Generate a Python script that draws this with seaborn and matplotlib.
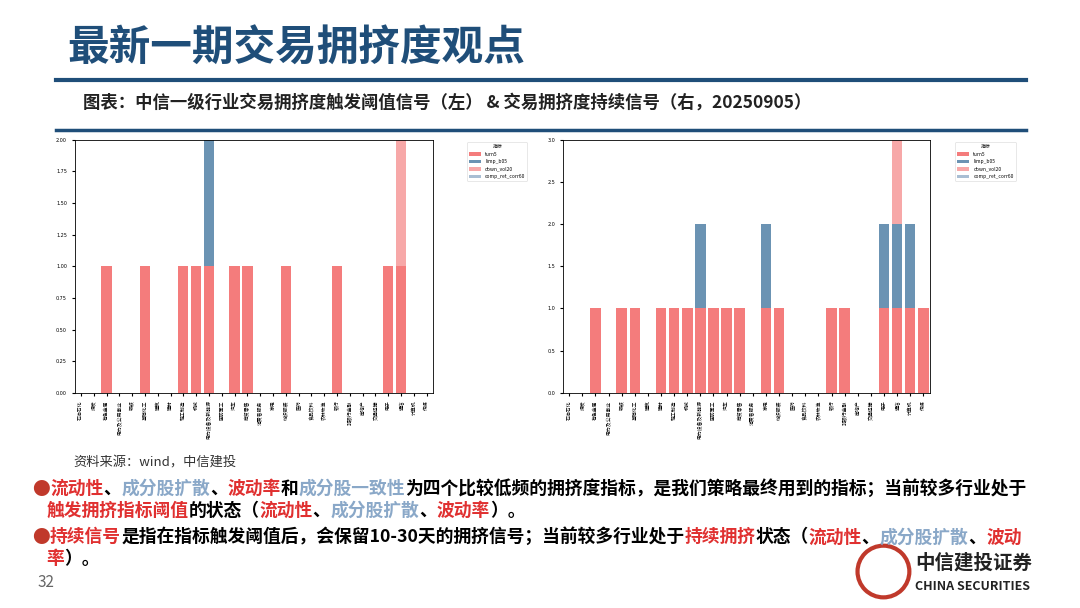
import numpy as np
import pandas as pd
import matplotlib.pyplot as plt
from matplotlib.patches import Ellipse
import seaborn as sns

industries = ['石油石化', '煤炭', '有色金属', '电力及公用事业', '钢铁', '基础化工', '建筑', '建材',
              '轻工制造', '机械', '电力设备及新能源', '国防军工', '汽车', '商贸零售', '消费者服务', '家电',
              '纺织服装', '医药', '食品饮料', '农林牧渔', '银行', '非银行金融', '房地产', '交通运输',
              '电子', '通信', '计算机', '传媒']
series = ['turn5', 'limp_b05', 'down_vol20', 'comp_ret_corr60']
colors = ['#f47c7c', '#6b93b3', '#f7a8a8', '#a9bed3']

left_turn5 = [0, 0, 1, 0, 0, 1, 0, 0, 1, 1, 1, 0, 1, 1, 0, 0, 1, 0, 0, 0, 1, 0, 0, 0, 1, 1, 0, 0]
left_limp = [0] * 10 + [1] + [0] * 17
left_down = [0] * 25 + [1, 0, 0]
left_corr = [0] * 28

right_turn5 = [0, 0, 1, 0, 1, 1, 0, 1, 1, 1, 1, 1, 1, 1, 0, 1, 1, 0, 0, 0, 1, 1, 0, 0, 1, 1, 1, 1]
right_limp = [0] * 10 + [1] + [0] * 4 + [1] + [0] * 8 + [1, 1, 1, 0]
right_down = [0] * 25 + [1, 0, 0]
right_corr = [0] * 28

plt.rcParams['font.family'] = ['Noto Sans CJK SC', 'DejaVu Sans']
fig = plt.figure(figsize=(10.8, 6.08), dpi=100)
fig.patch.set_facecolor('white')

navy = '#1f4e79'
fig.text(0.062, 0.9, '最新一期交易拥挤度观点', fontsize=30, fontweight='bold', color=navy)
fig.add_artist(plt.Line2D([0.052, 0.95], [0.868, 0.868], color=navy, lw=3))
fig.text(0.077, 0.823, '图表：中信一级行业交易拥挤度触发阈值信号（左） & 交易拥挤度持续信号（右，20250905）',
         fontsize=12.5, fontweight='bold', color='#222222')
fig.add_artist(plt.Line2D([0.052, 0.95], [0.787, 0.787], color=navy, lw=2.5))


def stacked(ax, vals, ymax, ticks, fmt):
    bottom = np.zeros(len(industries))
    for name, v, c in zip(series, vals, colors):
        df = pd.DataFrame({'ind': industries, 'v': v})
        sns.barplot(data=df, x='ind', y='v', color=c, bottom=bottom, ax=ax, width=0.8,
                    saturation=1, label=name)
        bottom = bottom + np.array(v)
    ax.set_ylim(0, ymax)
    ax.set_yticks(ticks)
    ax.set_yticklabels([fmt.format(t) for t in ticks], fontsize=3.5, family='DejaVu Sans')
    ax.tick_params(axis='x', rotation=90, labelsize=3.5, length=2)
    ax.tick_params(axis='y', length=2)
    for lab in ax.get_xticklabels():
        lab.set_verticalalignment('top')
    ax.set_xlabel('')
    ax.set_ylabel('')
    for s in ax.spines.values():
        s.set_linewidth(0.6)
    leg = ax.legend(title='指标', fontsize=3.5, title_fontsize=3.5, loc='upper right',
                    bbox_to_anchor=(1.27, 1.0), frameon=True, handlelength=2.5)
    leg.get_frame().set_linewidth(0.4)


ax1 = fig.add_axes([0.069, 0.354, 0.332, 0.416])
stacked(ax1, [left_turn5, left_limp, left_down, left_corr], 2.0,
        [0, 0.25, 0.5, 0.75, 1.0, 1.25, 1.5, 1.75, 2.0], '{:.2f}')
ax2 = fig.add_axes([0.521, 0.354, 0.340, 0.416])
stacked(ax2, [right_turn5, right_limp, right_down, right_corr], 3.0,
        [0, 0.5, 1.0, 1.5, 2.0, 2.5, 3.0], '{:.1f}')
ax2.get_legend().set_bbox_to_anchor((1.24, 1.0))

fig.text(0.068, 0.232, '资料来源：wind，中信建投', fontsize=9.5, color='#333333', style='italic')

red = '#e03030'
blue = '#8aa8c8'
fs = 12.8
lines = [
    [('●', '#c0392b'), ('流动性', red), ('、', 'k'), ('成分股扩散', blue), ('、', 'k'), ('波动率', red),
     ('和', 'k'), ('成分股一致性', blue), ('为四个比较低频的拥挤度指标，是我们策略最终用到的指标；当前较多行业处于', 'k')],
    [('触发拥挤指标阈值', red), ('的状态（', 'k'), ('流动性', red), ('、', 'k'), ('成分股扩散', blue),
     ('、', 'k'), ('波动率', red), ('）。', 'k')],
    [('●', '#c0392b'), ('持续信号', red), ('是指在指标触发阈值后，会保留10-30天的拥挤信号；当前较多行业处于', 'k'),
     ('持续拥挤', red), ('状态（', 'k'), ('流动性', red), ('、', 'k'), ('成分股扩散', blue), ('、', 'k'),
     ('波动', red)],
    [('率', red), ('）。', 'k')],
]
ys = [0.188, 0.152, 0.108, 0.072]
xs = [0.03, 0.043, 0.03, 0.043]
renderer = fig.canvas.get_renderer()
for parts, y, x0 in zip(lines, ys, xs):
    x = x0
    for txt, c in parts:
        t = fig.text(x, y, txt, fontsize=fs, color=c, fontweight='bold',
                     style='italic' if c in (red, blue) else 'normal')
        bb = t.get_window_extent(renderer)
        x += bb.width / fig.bbox.width

fig.text(0.035, 0.035, '32', fontsize=11, color='#666666')
fig.add_artist(Ellipse((0.818, 0.06), 0.048, 0.085, transform=fig.transFigure,
                       color='#c0392b', fill=False, lw=3))
fig.text(0.847, 0.065, '中信建投证券', fontsize=14, fontweight='bold', color='#222222')
fig.text(0.847, 0.03, 'CHINA SECURITIES', fontsize=9, fontweight='bold', color='#222222')

fig.savefig('out.png', dpi=100)
